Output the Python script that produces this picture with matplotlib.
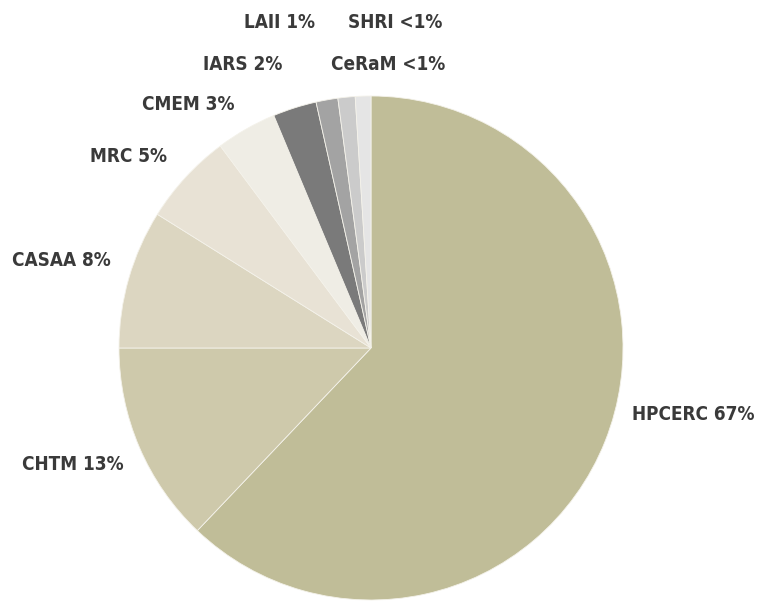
import matplotlib
matplotlib.use("Agg")
import matplotlib.pyplot as plt
from matplotlib import font_manager as fm

labels = ["HPCERC 67%", "CHTM 13%", "CASAA 8%", "MRC 5%", "CMEM 3%",
          "IARS 2%", "LAII 1%", "SHRI <1%", "CeRaM <1%"]
values = [62.1, 12.9, 8.9, 5.9, 3.9, 2.8, 1.4, 1.1, 1.0]
colors = ["#C0BD98", "#CEC9AB", "#DCD6C1", "#E8E2D5", "#EFEDE5",
          "#7A7A7A", "#A3A3A3", "#CBCBCB", "#E5E5E5"]
# label centre positions in pixels (x, y from top)
label_pos = [(693, 415), (73, 465), (61, 261), (128, 157), (188, 104),
             (243, 64), (279, 23), (395, 23), (388, 64)]

# pick a narrow bold font if available
fprop = None
for f in fm.fontManager.ttflist:
    n = f.name.lower()
    if ("narrow" in n or "condensed" in n or str(f.stretch).endswith("condensed")) \
            and (f.weight in ("bold", 700) or str(f.weight) == "700"):
        fprop = fm.FontProperties(fname=f.fname)
        break
if fprop is None:
    fprop = fm.FontProperties(family=["Lato", "DejaVu Sans"], weight="bold")

W, H = 757, 601
fig = plt.figure(figsize=(W / 100, H / 100), dpi=100)
ax = fig.add_axes([0, 0, 1, 1])

cx, cy, r = 371, H - 348, 252
ax.pie(values, colors=colors, startangle=90, counterclock=False,
       center=(cx, cy), radius=r, frame=True,
       wedgeprops=dict(edgecolor="#F4F2EA", linewidth=0.6))
ax.set_xlim(0, W)
ax.set_ylim(0, H)
ax.set_aspect("equal")
ax.axis("off")

# size text so that the widest label matches the reference width (~123 px)
renderer = fig.canvas.get_renderer()
t = ax.text(0, 0, labels[0], fontproperties=fprop, fontsize=17)
wpx = t.get_window_extent(renderer).width
t.remove()
fs = 17 * 123 / wpx

for lab, (x, y) in zip(labels, label_pos):
    ax.text(x, H - y, lab, ha="center", va="center", fontproperties=fprop,
            fontsize=fs, color="#3A3A3A")

fig.savefig("out.png", dpi=100)
